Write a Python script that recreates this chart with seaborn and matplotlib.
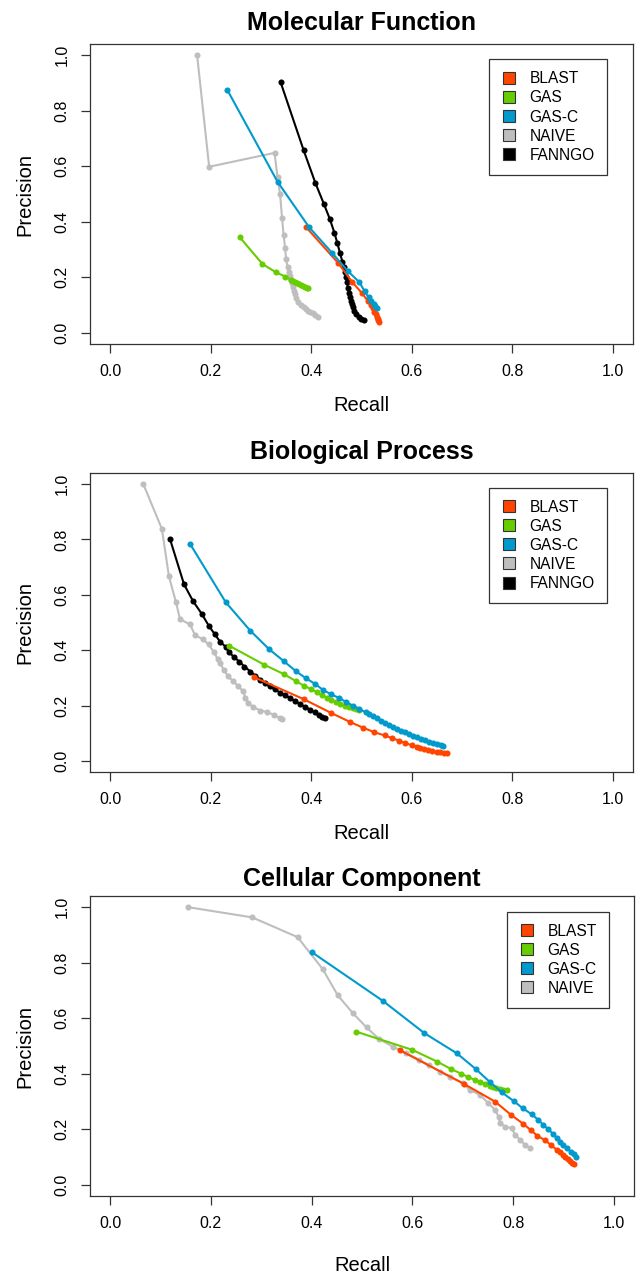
import matplotlib
matplotlib.use("Agg")
import matplotlib.pyplot as plt
import seaborn as sns
import pandas as pd
import numpy as np
from matplotlib.lines import Line2D

# ---------------- data ----------------
methods_legend_5 = ["BLAST", "GAS", "GAS-C", "NAIVE", "FANNGO"]
methods_legend_4 = ["BLAST", "GAS", "GAS-C", "NAIVE"]
draw_order = ["NAIVE", "FANNGO", "BLAST", "GAS", "GAS-C"]
colors = {"BLAST": "#FF4500", "GAS": "#66CD00", "GAS-C": "#009ACD",
          "NAIVE": "#BEBEBE", "FANNGO": "#000000"}
titles = ["Molecular Function", "Biological Process", "Cellular Component"]
tick_vals = [0.0, 0.2, 0.4, 0.6, 0.8, 1.0]
tick_labels = ["0.0", "0.2", "0.4", "0.6", "0.8", "1.0"]

# Molecular Function
mf_naive_r = [0.173, 0.197, 0.327, 0.333, 0.338, 0.342, 0.345, 0.348, 0.350, 0.353, 0.355, 0.357,
              0.359, 0.361, 0.363, 0.365, 0.367, 0.370, 0.374, 0.379, 0.385, 0.390, 0.394, 0.398,
              0.404, 0.408, 0.413]
mf_naive_p = [1.000, 0.598, 0.648, 0.560, 0.500, 0.414, 0.353, 0.306, 0.266, 0.236, 0.218, 0.205,
              0.190, 0.178, 0.165, 0.152, 0.140, 0.125, 0.113, 0.100, 0.092, 0.085, 0.080, 0.077,
              0.072, 0.066, 0.056]
mf_gas_r = [0.258, 0.303, 0.329, 0.348, 0.359, 0.363, 0.367, 0.371, 0.375, 0.379, 0.383, 0.387, 0.391, 0.394]
mf_gas_p = [0.344, 0.248, 0.219, 0.203, 0.192, 0.188, 0.184, 0.180, 0.176, 0.172, 0.168, 0.165, 0.163, 0.161]
mf_blast_r = [0.390, 0.454, 0.482, 0.501, 0.512, 0.518, 0.522, 0.525, 0.528, 0.530, 0.532, 0.533, 0.534]
mf_blast_p = [0.380, 0.251, 0.182, 0.143, 0.116, 0.100, 0.088, 0.077, 0.067, 0.058, 0.051, 0.045, 0.040]
mf_gasc_r = [0.233, 0.333, 0.396, 0.442, 0.473, 0.496, 0.506, 0.514, 0.519, 0.524, 0.527, 0.530]
mf_gasc_p = [0.875, 0.544, 0.380, 0.287, 0.222, 0.182, 0.150, 0.128, 0.115, 0.104, 0.096, 0.089]
mf_fanngo_r = [0.339, 0.385, 0.408, 0.425, 0.437, 0.446, 0.452, 0.457, 0.462, 0.465, 0.467, 0.469,
               0.471, 0.473, 0.475, 0.477, 0.479, 0.481, 0.483, 0.486, 0.490, 0.495, 0.500, 0.504]
mf_fanngo_p = [0.903, 0.657, 0.541, 0.465, 0.410, 0.361, 0.323, 0.289, 0.256, 0.237, 0.218, 0.200,
               0.182, 0.163, 0.145, 0.130, 0.116, 0.104, 0.092, 0.080, 0.068, 0.058, 0.050, 0.046]

# Biological Process
bp_naive_r = [0.066, 0.103, 0.117, 0.131, 0.139, 0.159, 0.169, 0.185, 0.196, 0.206, 0.214, 0.219,
              0.226, 0.235, 0.245, 0.255, 0.265, 0.269, 0.275, 0.285, 0.299, 0.312, 0.325, 0.338, 0.342]
bp_naive_p = [1.000, 0.838, 0.667, 0.573, 0.512, 0.493, 0.454, 0.439, 0.421, 0.394, 0.368, 0.353,
              0.329, 0.305, 0.287, 0.269, 0.251, 0.227, 0.209, 0.194, 0.182, 0.177, 0.167, 0.155, 0.151]
bp_fanngo_r = [0.119, 0.147, 0.165, 0.182, 0.196, 0.208, 0.219, 0.230, 0.237, 0.247, 0.257, 0.267,
               0.279, 0.289, 0.299, 0.308, 0.318, 0.328, 0.338, 0.348, 0.358, 0.368, 0.378, 0.388,
               0.398, 0.407, 0.415, 0.422, 0.428]
bp_fanngo_p = [0.802, 0.638, 0.577, 0.532, 0.489, 0.458, 0.430, 0.412, 0.392, 0.374, 0.359, 0.341,
               0.323, 0.308, 0.293, 0.281, 0.269, 0.258, 0.247, 0.237, 0.227, 0.216, 0.205, 0.195,
               0.185, 0.176, 0.167, 0.160, 0.155]
bp_gasc_r = [0.159, 0.230, 0.279, 0.316, 0.345, 0.369, 0.389, 0.408, 0.423, 0.439, 0.456, 0.470,
             0.484, 0.496, 0.508, 0.515, 0.523, 0.531, 0.539, 0.547, 0.555, 0.563, 0.571, 0.579,
             0.587, 0.595, 0.603, 0.611, 0.619, 0.627, 0.635, 0.643, 0.651, 0.658, 0.662]
bp_gasc_p = [0.784, 0.573, 0.470, 0.404, 0.361, 0.325, 0.299, 0.278, 0.257, 0.241, 0.227, 0.212,
             0.199, 0.187, 0.176, 0.170, 0.162, 0.154, 0.146, 0.138, 0.131, 0.123, 0.116, 0.109,
             0.103, 0.097, 0.091, 0.085, 0.080, 0.075, 0.069, 0.064, 0.060, 0.056, 0.053]
bp_gas_r = [0.237, 0.307, 0.345, 0.369, 0.386, 0.400, 0.411, 0.421, 0.431, 0.440, 0.449, 0.458,
            0.467, 0.475, 0.483, 0.490, 0.496]
bp_gas_p = [0.416, 0.347, 0.314, 0.289, 0.271, 0.259, 0.248, 0.237, 0.229, 0.221, 0.213, 0.206,
            0.200, 0.195, 0.190, 0.187, 0.185]
bp_blast_r = [0.287, 0.385, 0.440, 0.478, 0.503, 0.525, 0.546, 0.560, 0.575, 0.587, 0.600, 0.610,
              0.617, 0.625, 0.633, 0.641, 0.650, 0.657, 0.664, 0.670]
bp_blast_p = [0.302, 0.223, 0.173, 0.140, 0.120, 0.104, 0.092, 0.083, 0.073, 0.065, 0.056, 0.051,
              0.047, 0.042, 0.038, 0.035, 0.032, 0.031, 0.030, 0.029]

# Cellular Component
cc_naive_r = [0.154, 0.282, 0.372, 0.422, 0.452, 0.482, 0.509, 0.534, 0.561, 0.588, 0.614, 0.634,
              0.654, 0.674, 0.701, 0.714, 0.734, 0.751, 0.764, 0.771, 0.774, 0.784, 0.797, 0.804,
              0.814, 0.824, 0.834]
cc_naive_p = [1.000, 0.963, 0.892, 0.777, 0.682, 0.618, 0.567, 0.525, 0.498, 0.474, 0.450, 0.430,
              0.408, 0.390, 0.366, 0.342, 0.324, 0.294, 0.270, 0.246, 0.222, 0.210, 0.204, 0.180,
              0.162, 0.144, 0.132]
cc_gasc_r = [0.401, 0.541, 0.624, 0.688, 0.726, 0.754, 0.777, 0.801, 0.819, 0.837, 0.850, 0.860,
             0.870, 0.879, 0.887, 0.894, 0.900, 0.907, 0.914, 0.920, 0.925]
cc_gasc_p = [0.837, 0.663, 0.546, 0.474, 0.417, 0.370, 0.334, 0.302, 0.276, 0.254, 0.234, 0.216,
             0.200, 0.184, 0.168, 0.156, 0.144, 0.132, 0.120, 0.110, 0.100]
cc_gas_r = [0.488, 0.600, 0.649, 0.676, 0.696, 0.711, 0.724, 0.734, 0.744, 0.754, 0.761, 0.767,
            0.773, 0.780, 0.787]
cc_gas_p = [0.552, 0.486, 0.444, 0.418, 0.401, 0.388, 0.378, 0.372, 0.364, 0.356, 0.352, 0.348,
            0.345, 0.342, 0.340]
cc_blast_r = [0.576, 0.702, 0.764, 0.796, 0.820, 0.836, 0.848, 0.864, 0.875, 0.887, 0.893, 0.899,
              0.904, 0.908, 0.912, 0.916, 0.920]
cc_blast_p = [0.484, 0.364, 0.300, 0.252, 0.220, 0.196, 0.177, 0.160, 0.144, 0.126, 0.117, 0.108,
              0.100, 0.092, 0.086, 0.080, 0.076]

panels = [
    {"NAIVE": (mf_naive_r, mf_naive_p), "FANNGO": (mf_fanngo_r, mf_fanngo_p),
     "BLAST": (mf_blast_r, mf_blast_p), "GAS": (mf_gas_r, mf_gas_p), "GAS-C": (mf_gasc_r, mf_gasc_p)},
    {"NAIVE": (bp_naive_r, bp_naive_p), "FANNGO": (bp_fanngo_r, bp_fanngo_p),
     "BLAST": (bp_blast_r, bp_blast_p), "GAS": (bp_gas_r, bp_gas_p), "GAS-C": (bp_gasc_r, bp_gasc_p)},
    {"NAIVE": (cc_naive_r, cc_naive_p),
     "BLAST": (cc_blast_r, cc_blast_p), "GAS": (cc_gas_r, cc_gas_p), "GAS-C": (cc_gasc_r, cc_gasc_p)},
]
legend_sets = [methods_legend_5, methods_legend_5, methods_legend_4]

# ---------------- style ----------------
sns.set_style("ticks")
plt.rcParams["font.family"] = ["Liberation Sans", "DejaVu Sans"]

W, H = 638, 1274
fig = plt.figure(figsize=(W / 100, H / 100), dpi=100)

# axes boxes in pixels: left, top, right, bottom
boxes = [(90, 44, 633, 344), (90, 473, 633, 772), (90, 896, 634, 1196)]
legend_anchor = [(0.952, 0.949), (0.952, 0.951), (0.954, 0.948)]
xlabel_pads = [12, 12, 18]
title_pads = [10, 10, 7]
edge = "#333333"
txt = "#000000"

for i, (box, data, leg_methods) in enumerate(zip(boxes, panels, legend_sets)):
    l, t, r, b = box
    ax = fig.add_axes([l / W, 1 - b / H, (r - l) / W, (b - t) / H])
    rows = []
    for m in draw_order:
        if m in data:
            xs, ys = data[m]
            for k, (xv, yv) in enumerate(zip(xs, ys)):
                rows.append({"Method": m, "Recall": xv, "Precision": yv, "idx": k})
    df = pd.DataFrame(rows)
    order = [m for m in draw_order if m in data]
    sns.lineplot(data=df, x="Recall", y="Precision", hue="Method", hue_order=order,
                 palette=colors, sort=False, estimator=None, marker="o",
                 markersize=4.4, markeredgewidth=0, linewidth=1.5, legend=False, ax=ax)

    ax.set_xlim(-0.04, 1.04)
    ax.set_ylim(-0.04, 1.04)
    ax.set_xticks(tick_vals)
    ax.set_xticklabels(tick_labels)
    ax.set_yticks(tick_vals)
    ax.set_yticklabels(tick_labels, rotation=90, va="center")
    ax.tick_params(direction="out", length=6.5, width=0.9, colors=edge,
                   labelsize=11.5, labelcolor=txt, pad=8)
    for sp in ax.spines.values():
        sp.set_visible(True)
        sp.set_color(edge)
        sp.set_linewidth(0.9)
    ax.set_xlabel("Recall", fontsize=14.5, labelpad=xlabel_pads[i], color=txt)
    ax.set_ylabel("Precision", fontsize=14.5, labelpad=15, color=txt)
    ax.set_title(titles[i], fontsize=18, fontweight="bold", pad=title_pads[i], color=txt)

    handles = [Line2D([], [], marker="s", linestyle="none", markerfacecolor=colors[m],
                      markeredgecolor=edge, markeredgewidth=0.8, markersize=8.0)
               for m in leg_methods]
    leg = ax.legend(handles, leg_methods, loc="upper right", bbox_to_anchor=legend_anchor[i],
                    fontsize=11.2, frameon=True, fancybox=False, edgecolor=edge,
                    framealpha=1, borderpad=0.78, labelspacing=0.26, handlelength=1.0,
                    handletextpad=0.85, borderaxespad=0)
    for tx in leg.get_texts():
        tx.set_color(txt)
    leg.get_frame().set_linewidth(0.9)

fig.savefig("out.png", dpi=100)
